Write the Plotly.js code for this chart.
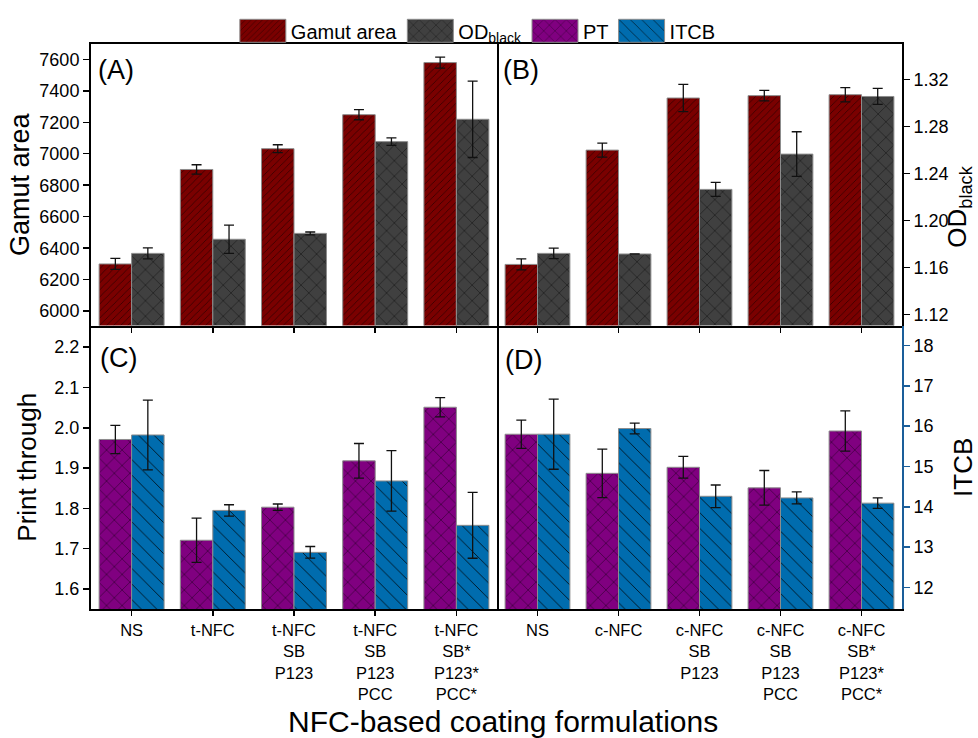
<!DOCTYPE html>
<html>
<head>
<meta charset="utf-8">
<script src="https://cdn.plot.ly/plotly-3.0.1.min.js"></script>
<style>html,body{margin:0;padding:0;background:#fff;}#chart{width:978px;height:738px;}</style>
</head>
<body>
<div id="chart"></div>
<script>
// ---- data ----
const catsT = ['NS', 't-NFC', 't-NFC<br>SB<br>P123', 't-NFC<br>SB<br>P123<br>PCC', 't-NFC<br>SB*<br>P123*<br>PCC*'];
const catsC = ['NS', 'c-NFC', 'c-NFC<br>SB<br>P123', 'c-NFC<br>SB<br>P123<br>PCC', 'c-NFC<br>SB*<br>P123*<br>PCC*'];

const gamutT    = [6300, 6900, 7032, 7248, 7579];
const gamutTErr = [35, 30, 25, 32, 35];
const odT       = [1.172, 1.184, 1.189, 1.267, 1.286];
const odTErr    = [0.0047, 0.012, 0.0012, 0.0032, 0.0325];

const gamutC    = [6297, 7023, 7354, 7369, 7375];
const gamutCErr = [35, 45, 86, 33, 45];
const odC       = [1.172, 1.1715, 1.2264, 1.2564, 1.3054];
const odCErr    = [0.0045, 0, 0.006, 0.019, 0.0068];

const ptT       = [1.971, 1.721, 1.803, 1.918, 2.051];
const ptTErr    = [0.035, 0.055, 0.008, 0.043, 0.024];
const itcbT     = [15.78, 13.91, 12.87, 14.64, 13.54];
const itcbTErr  = [0.865, 0.14, 0.145, 0.75, 0.816];

const ptC       = [1.984, 1.887, 1.902, 1.851, 1.992];
const ptCErr    = [0.035, 0.06, 0.027, 0.043, 0.05];
const itcbC     = [15.80, 15.94, 14.26, 14.22, 14.09];
const itcbCErr  = [0.87, 0.135, 0.28, 0.15, 0.13];

const names = ['Gamut area', 'OD<sub>black</sub>', 'PT', 'ITCB'];

// ---- styles ----
const FONT = 'Arial, "Liberation Sans", sans-serif';
const colGamut = '#7a0000', colOD = '#404040', colPT = '#800080', colITCB = '#006cae';
const lineCol = '#8c8c8c';

function bar(x, y, err, name, color, shape, psize, solid, fgop, xa, ya, off, showleg) {
  return {
    type: 'bar', x: x, y: y, name: name, xaxis: xa, yaxis: ya,
    width: 0.4, offset: off, showlegend: showleg, legendgroup: name,
    marker: {
      color: color,
      line: {color: lineCol, width: 1},
      pattern: {shape: shape, fillmode: 'overlay', fgcolor: '#000', bgcolor: color, size: psize, solidity: solid, fgopacity: fgop}
    },
    error_y: {type: 'data', array: err, visible: true, color: '#111', thickness: 1.3, width: 5},
    hoverinfo: 'skip'
  };
}

const data = [
  bar(catsT, gamutT, gamutTErr, names[0], colGamut, '/', 5, 0.15, 0.6, 'x', 'y', -0.4, true),
  bar(catsT, odT, odTErr, names[1], colOD, 'x', 11, 0.08, 0.85, 'x', 'y2', 0, true),
  bar(catsC, gamutC, gamutCErr, names[0], colGamut, '/', 5, 0.15, 0.6, 'x2', 'y3', -0.4, false),
  bar(catsC, odC, odCErr, names[1], colOD, 'x', 11, 0.08, 0.85, 'x2', 'y4', 0, false),
  bar(catsT, ptT, ptTErr, names[2], colPT, 'x', 11, 0.08, 0.85, 'x3', 'y5', -0.4, true),
  bar(catsT, itcbT, itcbTErr, names[3], colITCB, '\\', 11, 0.08, 0.85, 'x3', 'y6', 0, true),
  bar(catsC, ptC, ptCErr, names[2], colPT, 'x', 11, 0.08, 0.85, 'x4', 'y7', -0.4, false),
  bar(catsC, itcbC, itcbCErr, names[3], colITCB, '\\', 11, 0.08, 0.85, 'x4', 'y8', 0, false)
];

const W = 978, H = 738, ML = 91, MR = 76, MT = 43, MB = 129;
const PW = W - ML - MR, PH = H - MT - MB;
const xSplit = (497 - ML) / PW;
const ySplit = (609 - 325) / PH;

const tickFont = {family: FONT, size: 18, color: '#000'};
const titleFont = {family: FONT, size: 26, color: '#000'};

function xAx(domain, anchor, showLabels, mirror) {
  return {
    domain: domain, anchor: anchor, type: 'category', range: [-0.5, 4.5],
    showline: true, linecolor: '#000', linewidth: 2, mirror: mirror,
    ticks: 'outside', ticklen: 5, tickwidth: 1.5, tickcolor: '#000',
    showticklabels: showLabels, tickfont: {family: FONT, size: 16.5, color: '#000'},
    showgrid: false, zeroline: false, fixedrange: true
  };
}
function yAx(domain, anchor, range, opts) {
  return Object.assign({
    domain: domain, anchor: anchor, range: range,
    showline: true, linecolor: '#000', linewidth: 2,
    ticks: 'outside', ticklen: 6, tickwidth: 1.5, tickcolor: '#000',
    tickfont: tickFont, showgrid: false, zeroline: false, fixedrange: true
  }, opts || {});
}

const rGamut = [5909, 7697];
const rOD = [1.1107, 1.35];
const rPT = [1.5505, 2.2537];
const rITCB = [11.466, 18.494];
const topD = [ySplit, 1], botD = [0, ySplit];

const layout = {
  width: W, height: H,
  margin: {l: ML, r: MR, t: MT, b: MB, pad: 0},
  paper_bgcolor: '#fff', plot_bgcolor: '#fff',
  font: {family: FONT, color: '#000'},
  barmode: 'overlay',
  showlegend: true,
  legend: {
    orientation: 'h', x: 0.477, xanchor: 'center', y: 1.056, yanchor: 'top',
    font: {family: FONT, size: 20, color: '#000'}, itemwidth: 46,
    bgcolor: 'rgba(0,0,0,0)', traceorder: 'normal', itemclick: false, itemdoubleclick: false
  },
  xaxis: xAx([0, xSplit], 'y', false, true),
  xaxis2: xAx([xSplit, 1], 'y3', false, true),
  xaxis3: xAx([0, xSplit], 'y5', true, false),
  xaxis4: xAx([xSplit, 1], 'y7', true, false),
  yaxis: yAx(topD, 'x', rGamut, {mirror: true, tickvals: [6000, 6200, 6400, 6600, 6800, 7000, 7200, 7400, 7600],
    title: {text: 'Gamut area', font: {family: FONT, size: 27, color: '#000'}, standoff: 2}}),
  yaxis2: yAx(topD, 'x', rOD, {overlaying: 'y', visible: false}),
  yaxis3: yAx(topD, 'x2', rGamut, {showline: false, showticklabels: false, ticks: ''}),
  yaxis4: yAx(topD, 'x2', rOD, {overlaying: 'y3', side: 'right', mirror: false,
    tickvals: [1.12, 1.16, 1.20, 1.24, 1.28, 1.32], ticktext: ['1.12', '1.16', '1.20', '1.24', '1.28', '1.32']}),
  yaxis5: yAx(botD, 'x3', rPT, {mirror: true, tickvals: [1.6, 1.7, 1.8, 1.9, 2.0, 2.1, 2.2],
    ticktext: ['1.6', '1.7', '1.8', '1.9', '2.0', '2.1', '2.2'],
    title: {text: 'Print through', font: titleFont, standoff: 10}}),
  yaxis6: yAx(botD, 'x3', rITCB, {overlaying: 'y5', visible: false}),
  yaxis7: yAx(botD, 'x4', rPT, {showline: false, showticklabels: false, ticks: ''}),
  yaxis8: yAx(botD, 'x4', rITCB, {overlaying: 'y7', side: 'right', mirror: false,
    linecolor: '#1a5e9a', tickcolor: '#1a5e9a', tickvals: [12, 13, 14, 15, 16, 17, 18],
    title: {text: 'ITCB', font: titleFont, standoff: 22}}),
  annotations: [
    {text: '(A)', xref: 'paper', yref: 'paper', x: (96 - ML) / PW, y: (609 - 69) / PH, xanchor: 'left', yanchor: 'middle', showarrow: false, font: {family: FONT, size: 27}},
    {text: '(B)', xref: 'paper', yref: 'paper', x: (501 - ML) / PW, y: (609 - 69) / PH, xanchor: 'left', yanchor: 'middle', showarrow: false, font: {family: FONT, size: 27}},
    {text: '(C)', xref: 'paper', yref: 'paper', x: (98 - ML) / PW, y: (609 - 358) / PH, xanchor: 'left', yanchor: 'middle', showarrow: false, font: {family: FONT, size: 27}},
    {text: '(D)', xref: 'paper', yref: 'paper', x: (503 - ML) / PW, y: (609 - 360) / PH, xanchor: 'left', yanchor: 'middle', showarrow: false, font: {family: FONT, size: 27}},
    {text: 'OD<sub>black</sub>', xref: 'paper', yref: 'paper', x: (959 - ML) / PW, y: (609 - 206) / PH, textangle: -90,
      xanchor: 'center', yanchor: 'middle', showarrow: false, font: {family: FONT, size: 26}},
    {text: 'NFC-based coating formulations', xref: 'paper', yref: 'paper', x: (503 - ML) / PW, y: (609 - 722) / PH,
      xanchor: 'center', yanchor: 'middle', showarrow: false, font: {family: FONT, size: 30}}
  ]
};

Plotly.newPlot('chart', data, layout, {displayModeBar: false, staticPlot: true}).then(function () {
  document.querySelectorAll('.legend .legendpoints path').forEach(function (p) {
    p.setAttribute('d', 'M23,11.5H-23V-11.5H23Z');
  });
});
</script>
</body>
</html>
